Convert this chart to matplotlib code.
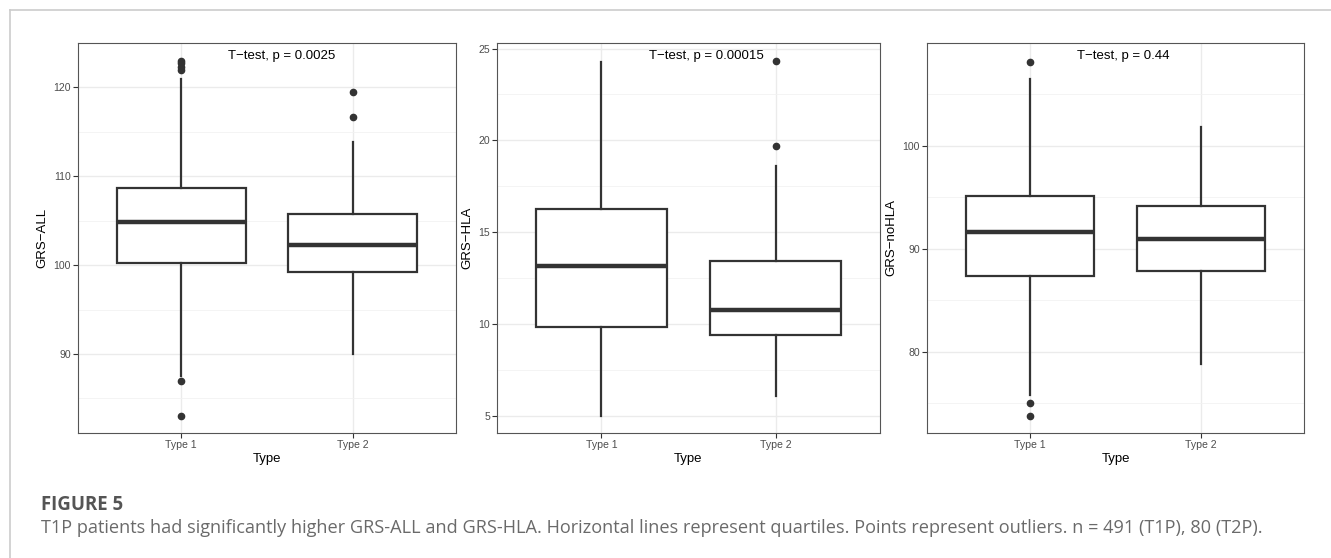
import matplotlib
matplotlib.use("Agg")
import matplotlib.pyplot as plt
from matplotlib.lines import Line2D

plt.rcParams['font.family'] = ['Liberation Sans', 'DejaVu Sans']

# values (box stats per group)
groups = ["Type 1", "Type 2"]
ylabels = ["GRS\u2212ALL", "GRS\u2212HLA", "GRS\u2212noHLA"]
pvalues = ["0.0025", "0.00015", "0.44"]

all_q1 = [100.2, 99.2]
all_med = [104.9, 102.3]
all_q3 = [108.7, 105.7]
all_lo = [87.5, 90.0]
all_hi = [120.9, 113.9]
all_out = [[123.0, 122.7, 122.3, 122.0, 87.0, 83.0], [119.5, 116.7]]

hla_q1 = [9.8, 9.4]
hla_med = [13.15, 10.75]
hla_q3 = [16.25, 13.4]
hla_lo = [5.0, 6.05]
hla_hi = [24.25, 18.6]
hla_out = [[], [24.3, 19.7]]

nohla_q1 = [87.4, 87.8]
nohla_med = [91.6, 91.0]
nohla_q3 = [95.15, 94.2]
nohla_lo = [75.8, 78.8]
nohla_hi = [106.5, 101.8]
nohla_out = [[108.2, 75.0, 73.8], []]

panels = [
    (all_q1, all_med, all_q3, all_lo, all_hi, all_out, (81.1, 125.0), [90, 100, 110, 120], [85, 95, 105, 115]),
    (hla_q1, hla_med, hla_q3, hla_lo, hla_hi, hla_out, (4.05, 25.3), [5, 10, 15, 20, 25], [7.5, 12.5, 17.5, 22.5]),
    (nohla_q1, nohla_med, nohla_q3, nohla_lo, nohla_hi, nohla_out, (72.1, 110.0), [80, 90, 100], [75, 85, 95, 105]),
]

W, H = 1331, 558
fig = plt.figure(figsize=(W / 100, H / 100), dpi=100)

# outer frame of the figure box
fig.add_artist(Line2D([10 / W, 1], [1 - 10 / H, 1 - 10 / H], color="#cccccc", lw=1.2))
fig.add_artist(Line2D([10 / W, 10 / W], [0, 1 - 10 / H], color="#cccccc", lw=1.2))

boxes_px = [(78, 456), (497, 880), (927, 1304)]
top, bottom = 43, 433

for i, (q1, med, q3, lo, hi, out, ylim, majors, minors) in enumerate(panels):
    l, r = boxes_px[i]
    ax = fig.add_axes([l / W, 1 - bottom / H, (r - l) / W, (bottom - top) / H])
    stats = []
    for j, g in enumerate(groups):
        stats.append({"label": g, "q1": q1[j], "med": med[j], "q3": q3[j],
                      "whislo": lo[j], "whishi": hi[j], "fliers": out[j]})
    ax.bxp(stats, positions=[1, 2], widths=0.75, showcaps=False, patch_artist=True,
           boxprops=dict(facecolor="white", edgecolor="#333333", lw=1.6),
           whiskerprops=dict(color="#333333", lw=1.6),
           medianprops=dict(color="#333333", lw=3.2, solid_capstyle="butt"),
           flierprops=dict(marker="o", markerfacecolor="#333333", markeredgecolor="#333333",
                           markersize=4.5))
    ax.set_xlim(0.4, 2.6)
    ax.set_ylim(*ylim)
    ax.set_yticks(majors)
    ax.set_yticks(minors, minor=True)
    ax.set_xticks([1, 2])
    ax.set_xticklabels(groups)
    ax.grid(True, which="major", color="#ebebeb", lw=1.0, zorder=0)
    ax.grid(True, which="minor", axis="y", color="#f2f2f2", lw=0.6, zorder=0)
    ax.set_axisbelow(True)
    ax.tick_params(which="major", length=3.5, width=0.8, color="#333333",
                   labelsize=7.6, labelcolor="#4d4d4d", pad=1.5)
    ax.tick_params(which="minor", length=0)
    for s in ax.spines.values():
        s.set_color("#555555")
        s.set_linewidth(0.8)
    ax.set_xlabel("Type", fontsize=9.5, labelpad=2.5)
    ax.set_ylabel(ylabels[i], fontsize=9.5, labelpad=3.5)
    ax.text(0.398, 0.967, "T\u2212test, p = " + pvalues[i], transform=ax.transAxes,
            ha="left", va="center", fontsize=9.5, color="black")

fig.text(41 / W, 1 - 505 / H, "FIGURE 5", family="Open Sans", fontweight="bold",
         fontsize=13.4, color="#555555", va="center", ha="left")
fig.text(41 / W, 1 - 528 / H,
         "T1P patients had significantly higher GRS-ALL and GRS-HLA. Horizontal lines represent quartiles. "
         "Points represent outliers. n = 491 (T1P), 80 (T2P).",
         family="Open Sans", fontsize=13.05, color="#6a6a6a", va="center", ha="left")

fig.savefig("out.png", dpi=100)
